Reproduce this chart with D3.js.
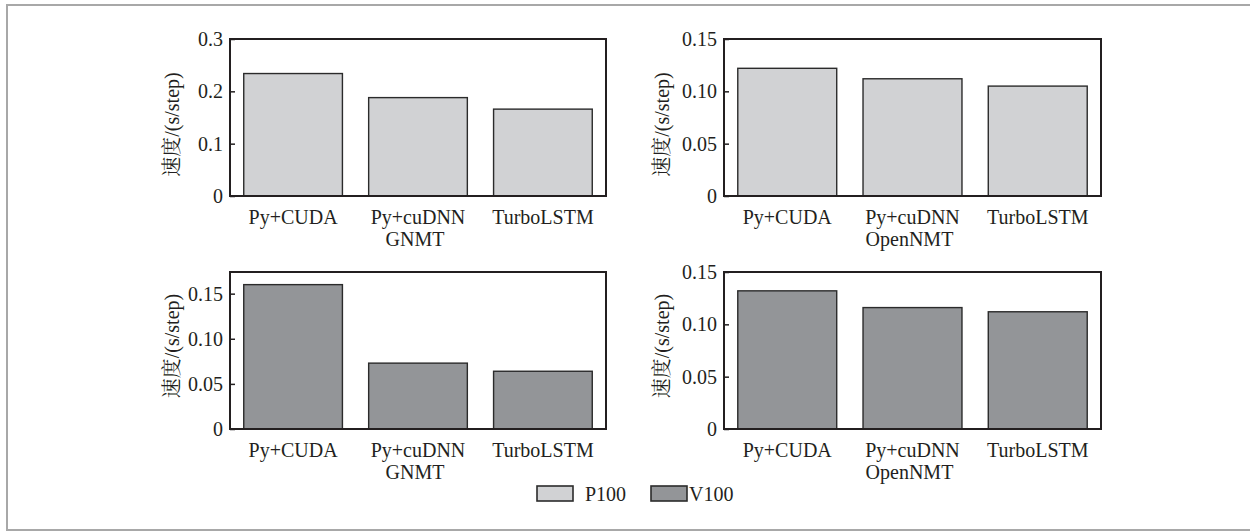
<!DOCTYPE html>
<html>
<head>
<meta charset="utf-8">
<script src="https://cdn.jsdelivr.net/npm/d3@7"></script>
<style>
  html, body { margin: 0; padding: 0; background: #fff; }
  svg { display: block; }
  text { font-family: "Liberation Serif", "Noto Serif CJK SC", "Noto Sans CJK SC", serif; fill: #231f20; }
</style>
</head>
<body>
<svg id="chart" width="1250" height="532"></svg>
<script>
// ---- data ----
const categories = ["Py+CUDA", "Py+cuDNN", "TurboLSTM"];
const modelGNMT = "GNMT";
const modelOpenNMT = "OpenNMT";
const p100GNMT = [0.234, 0.188, 0.166];
const p100OpenNMT = [0.122, 0.112, 0.105];
const v100GNMT = [0.160, 0.073, 0.064];
const v100OpenNMT = [0.132, 0.116, 0.112];
const ticksA = [0, 0.1, 0.2, 0.3];
const ticksB = [0, 0.05, 0.10, 0.15];
const tickLabelsA = ["0", "0.1", "0.2", "0.3"];
const tickLabelsB = ["0", "0.05", "0.10", "0.15"];
const seriesNames = ["P100", "V100"];
const yLabel = "速度/(s/step)";

const colors = { P100: "#d1d2d4", V100: "#939598" };

const svg = d3.select("#chart");

// outer border
svg.append("rect")
  .attr("x", 7).attr("y", 5).attr("width", 1260).attr("height", 525)
  .attr("fill", "none").attr("stroke", "#a8a8a8").attr("stroke-width", 2);

const panels = [
  { x0: 230, x1: 606, y0: 39, y1: 196, values: p100GNMT, max: 0.3, ticks: ticksA, labels: tickLabelsA, model: modelGNMT, series: "P100", labX: 171.5, labDy: 7 },
  { x0: 724, x1: 1101, y0: 39, y1: 196, values: p100OpenNMT, max: 0.15, ticks: ticksB, labels: tickLabelsB, model: modelOpenNMT, series: "P100", labX: 661.5, labDy: 7 },
  { x0: 230, x1: 606, y0: 272, y1: 429, values: v100GNMT, max: 0.174, ticks: ticksB, labels: tickLabelsB, model: modelGNMT, series: "V100", labX: 171.5, labDy: -4.5 },
  { x0: 724, x1: 1101, y0: 272, y1: 429, values: v100OpenNMT, max: 0.15, ticks: ticksB, labels: tickLabelsB, model: modelOpenNMT, series: "V100", labX: 661.5, labDy: -4.5 }
];

panels.forEach(p => {
  const x = d3.scaleBand().domain(categories).range([p.x0, p.x1]).paddingInner(0.21).paddingOuter(0.11);
  const y = d3.scaleLinear().domain([0, p.max]).range([p.y1, p.y0]);
  const g = svg.append("g");

  // bars
  g.selectAll("rect.bar").data(categories).join("rect")
    .attr("class", "bar")
    .attr("x", d => x(d))
    .attr("width", x.bandwidth())
    .attr("y", (d, i) => y(p.values[i]))
    .attr("height", (d, i) => y(0) - y(p.values[i]))
    .attr("fill", colors[p.series])
    .attr("stroke", "#2b2b2b")
    .attr("stroke-width", 1.4);

  // y axis
  const lab = {}; p.ticks.forEach((t, i) => lab[t] = p.labels[i]);
  const ya = g.append("g").attr("transform", `translate(${p.x0},0)`)
    .call(d3.axisLeft(y).tickValues(p.ticks).tickFormat(t => lab[t]).tickSizeInner(-5).tickSizeOuter(0).tickPadding(7));
  ya.select(".domain").remove();
  ya.selectAll(".tick line").attr("stroke", "#231f20").attr("stroke-width", 1.5);
  ya.selectAll(".tick text").attr("font-size", 20).attr("font-family", "Liberation Serif").attr("fill", "#231f20");

  // frame
  g.append("rect")
    .attr("x", p.x0).attr("y", p.y0)
    .attr("width", p.x1 - p.x0).attr("height", p.y1 - p.y0)
    .attr("fill", "none").attr("stroke", "#231f20").attr("stroke-width", 2);

  // x labels
  categories.forEach((c, i) => {
    const cx = x(c) + x.bandwidth() / 2;
    g.append("text").attr("x", cx).attr("y", p.y1 + 27.5)
      .attr("text-anchor", "middle").attr("font-size", 20).text(c);
    if (i === 1) {
      g.append("text").attr("x", cx - 3).attr("y", p.y1 + 49.5)
        .attr("text-anchor", "middle").attr("font-size", 20).text(p.model);
    }
  });

  // y label
  const cy = (p.y0 + p.y1) / 2 + p.labDy;
  g.append("text")
    .attr("transform", `translate(${p.labX},${cy}) rotate(-90)`)
    .attr("text-anchor", "middle").attr("dominant-baseline", "central")
    .attr("font-size", 20).text(yLabel);
});

// legend
const legendPos = [537, 651];
const legendTextPos = [585, 689];
seriesNames.forEach((s, i) => {
  svg.append("rect").attr("x", legendPos[i]).attr("y", 486).attr("width", 36).attr("height", 15)
    .attr("fill", colors[s]).attr("stroke", "#2b2b2b").attr("stroke-width", 1.6);
  svg.append("text").attr("x", legendTextPos[i]).attr("y", 501)
    .attr("font-size", 20).text(s);
});
</script>
</body>
</html>
